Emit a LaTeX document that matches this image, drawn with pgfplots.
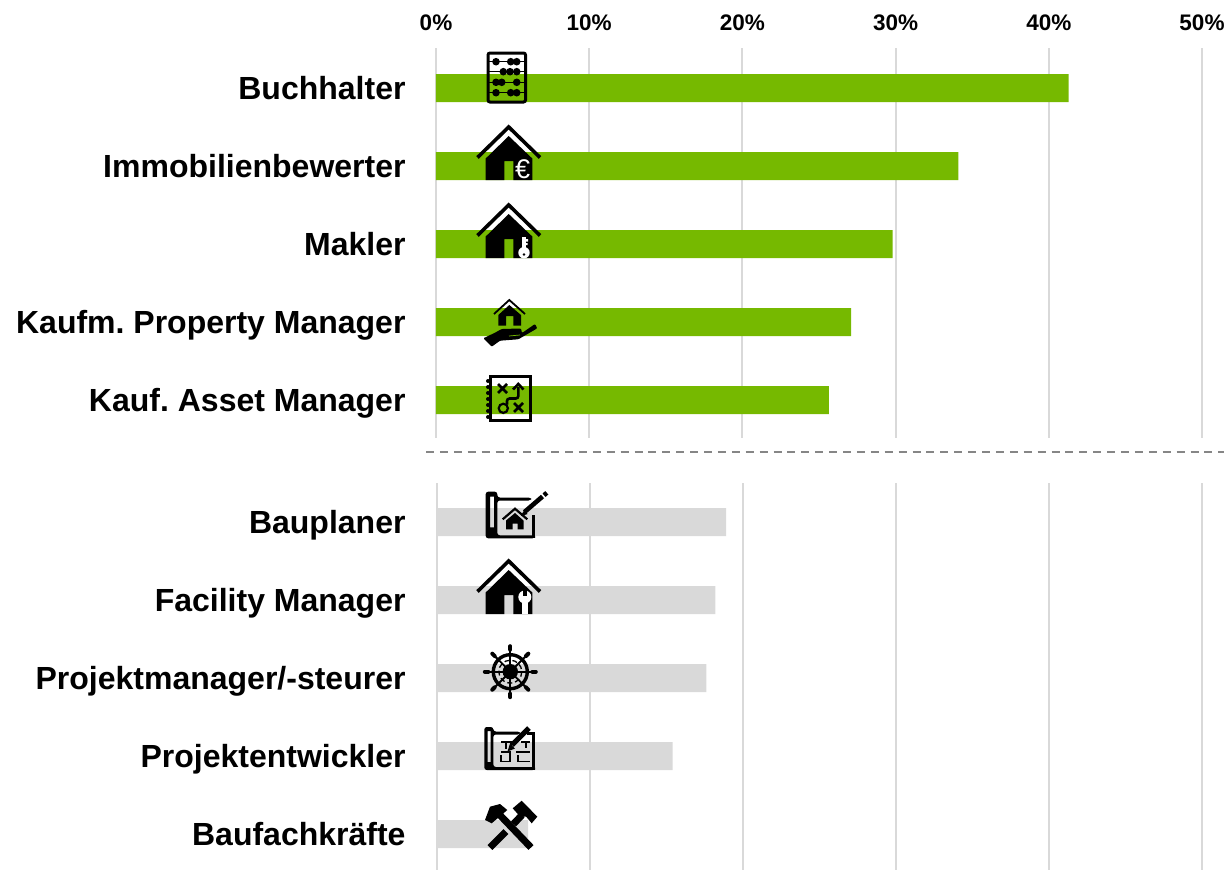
\documentclass[border=0pt]{standalone}
\usepackage{fontspec}
\setmainfont{Liberation Sans}
\usepackage{pgfplots}
\pgfplotsset{compat=1.18}
\frenchspacing
\definecolor{bargreen}{RGB}{118,185,0}
\definecolor{bargrey}{RGB}{217,217,217}
\pgfplotsset{
  jobs/.style={
    scale only axis, xbar, bar width=28pt, bar shift=0pt,
    xmin=0, xmax=50, y dir=reverse,
    ymin=-0.513, ymax=4.487,
    xtick={0,10,20,30,40,50},
    ytick={0,1,2,3,4},
    xmajorgrids=true,
    grid style={bargrey, line width=2pt},
    axis line style={draw=none},
    tick style={draw=none},
    clip=false,
    yticklabel style={font=\fontsize{32}{32}\selectfont\bfseries, anchor=base east, inner sep=0pt, xshift=-30pt, yshift=-11.5pt},
  },
}
\tikzset{
  % one house with chevron roof, shifted by dy from the Immobilienbewerter row
  house/.pic={
    \draw[line width=3.6pt, line cap=butt, miter limit=10] (477.5,157.5) -- (508.7,127) -- (540,157.5);
    \fill (508.7,136) -- (485.7,158.5) -- (485.7,180) -- (504.3,180) -- (504.3,161) -- (513.3,161)
      -- (513.3,180) -- (532.3,180) -- (532.3,158.5) -- cycle;
  },
}
\begin{document}
\begin{tikzpicture}[x=1pt,y=-1pt]
\useasboundingbox (0,0) rectangle (1224,870);

% top group
\begin{axis}[jobs, at={(436pt,-438pt)}, anchor=south west, width=766pt, height=390pt,
  xticklabel pos=upper,
  xticklabels={0\%,10\%,20\%,30\%,40\%,50\%},
  xticklabel style={font=\fontsize{22.5}{22.5}\selectfont\bfseries, inner sep=0pt, yshift=17pt},
  yticklabels={Buchhalter,Immobilienbewerter,Makler,Kaufm. Property Manager,Kauf. Asset Manager},
  yticklabel style={xshift=4pt},
]
\addplot[fill=bargreen, draw=none] coordinates {(41.3,0) (34.1,1) (29.8,2) (27.1,3) (25.65,4)};
\end{axis}

% bottom group
\begin{axis}[jobs, at={(437pt,-870pt)}, anchor=south west, width=765pt, height=387pt,
  ymin=-0.5, ymax=4.46,
  xticklabels={},
  yticklabels={Bauplaner,Facility Manager,Projektmanager/-steurer,Projektentwickler,Baufachkräfte},
  yticklabel style={xshift=3pt},
]
\addplot[fill=bargrey, draw=none] coordinates {(18.9,0) (18.2,1) (17.6,2) (15.4,3) (5.95,4)};
\end{axis}

\draw[gray!95, line width=2pt, dash pattern=on 8pt off 5.9pt] (426,452) -- (1230,452);

% abacus
\draw[line width=3pt, rounded corners=2pt] (488,53) rectangle (525.5,102);
\draw[line width=1.3pt] (488,61.7) -- (525,61.7) (488,71.7) -- (525,71.7) (488,82.3) -- (525,82.3) (488,92.7) -- (525,92.7);
\foreach \bx/\by in {496/61.7,510.7/61.7,516.7/61.7,503.3/71.7,510/71.7,516.7/71.7,496/82.3,501.7/82.3,516.7/82.3,496/92.7,510.7/92.7,516.7/92.7}
  \fill (\bx,\by) circle (3.8);

% house with euro
\pic {house};
\node[white, font=\fontsize{27}{27}\selectfont, inner sep=0pt] at (522.6,169) {€};

% house with key
\begin{scope}[yshift=-78pt]
\pic {house};
\fill[white] (524,174.7) circle (5.7);
\fill[white] (522.2,159.3) rectangle (525.8,172);
\fill[white] (525,161) rectangle (528,163.5) (525,165) rectangle (527.5,167);
\fill (524,176.5) circle (1.4);
\end{scope}

% hand holding house
\draw[line width=1.8pt] (494,314) -- (509.3,300) -- (525,314);
\fill (509.3,305) -- (498.3,315) -- (498.3,325.7) -- (506,325.7) -- (506,316) -- (513.3,316) -- (513.3,325.7) -- (521,325.7) -- (521,315) -- cycle;
\fill[rounded corners=1pt] (483.3,338.3) -- (491.7,346.7) -- (500,340.7) -- (518.3,339.3) -- (537.3,328.3) -- (535,324) -- (522,333)
  -- (521,328.5) -- (501.7,329) -- (495,332.7) -- cycle;
\draw[bargreen, line width=0.7pt] (509,336) -- (520,335);

% strategy notebook
\draw[line width=3pt] (490.3,376.3) rectangle (530.5,420);
\foreach \sy in {381,387,393,399,405,411,417} \fill (488,\sy) circle (2);
\draw[line width=2.8pt] (498,384) -- (507,393) (507,384) -- (498,393)
  (514,403) -- (523,412) (523,403) -- (514,412);
\draw[line width=2.2pt] (503.3,408.3) circle (4.6);
\draw[line width=2.6pt, rounded corners=2.5pt] (507,404.5) -- (507,398.5) -- (518.3,398.5) -- (518.3,387);
\draw[line width=2.6pt] (513,389.5) -- (518.3,384) -- (523.5,389.5);

% blueprint with house
\fill[black, even odd rule, rounded corners=2.5pt] (485.7,538.3) -- (485.7,491.7) -- (497.3,491.7) -- (497.3,497.5) -- (531,497.5) -- (531,500.5) -- (497.3,500.5)
  -- (497.3,535.3) -- (535,535.3) -- (535,538.3) -- cycle
  [sharp corners] (490,496.7) rectangle (494,527.3);
\fill (532.2,515) rectangle (535,538.3);
\draw[line width=2.2pt] (502.7,519.3) -- (515,508.7) -- (527.3,519.3);
\fill (515,513) -- (506,520.5) -- (506,529.3) -- (512.5,529.3) -- (512.5,523.5) -- (517.5,523.5) -- (517.5,529.3) -- (523.5,529.3) -- (523.5,520.5) -- cycle;
\draw[line width=4.6pt] (524.5,512) -- (542.5,496.5);
\draw[line width=4.6pt] (544,495.2) -- (546.8,492.8);
\fill (522,516) -- (521,515.5) -- (524,510.5) -- (527.5,514) -- cycle;

% house with wrench
\begin{scope}[yshift=-434pt]
\pic {house};
\fill[white] (521.5,163) rectangle (528,180);
\fill[white] (524.8,163) circle (6.5);
\fill (523,155) rectangle (526.5,161.5);
\end{scope}

% ship wheel
\begin{scope}[shift={(510.3,671.7)}]
\draw[line width=3.4pt] (0,0) circle (17);
\draw[line width=1.3pt, dash pattern=on 5pt off 3pt] (0,0) circle (11.5);
\fill (0,0) circle (7.7);
\foreach \a in {0,45,...,315} {
  \draw[line width=1.8pt] (\a:6) -- (\a:17);
  \draw[line width=2pt] (\a:17) -- (\a:22);
  \draw[line width=4pt, line cap=round] (\a:22) -- (\a:25.5);
}
\end{scope}

% blueprint with floor plan
\fill[black, even odd rule, rounded corners=2.5pt] (484.3,770) -- (484.3,727) -- (493.3,727) -- (493.3,731.5) -- (520,731.5) -- (520,734.5) -- (493.3,734.5)
  -- (493.3,767) -- (535,767) -- (535,770) -- cycle
  [sharp corners] (487.5,731) rectangle (490.5,762);
\fill (532.2,732) rectangle (535,770);
\fill (527,732) rectangle (535,734.5);
\draw[line width=1.3pt] (501,742) -- (511,742) -- (511,747) (506,742) -- (506,749) (501,752) -- (510,752) -- (510,761.5) -- (501,761.5) -- (501,755)
  (516,752) -- (530,752) (518,761.5) -- (530,761.5) (518,755) -- (518,761.5) (521,742) -- (530,742) (526,742) -- (526,748);
\draw[line width=5pt] (512,745) -- (529,728);
\fill (507.5,751.5) -- (510,743.5) -- (515,748.5) -- cycle;

% crossed hammers
\draw[line width=7pt] (490,847.5) -- (506,831.5) (513.5,824) -- (522,815);
\draw[line width=7pt] (531,847.5) -- (497,812);
\fill (512.7,808.3) -- (521.7,800.7) -- (537.3,816.7) -- (531.7,823.3) -- (526,816.5) -- (520.5,817) -- cycle;
\fill (485,820) -- (490,806.7) -- (500,804) -- (507.3,810) -- (491.7,823.3) -- cycle;
\end{tikzpicture}
\end{document}
